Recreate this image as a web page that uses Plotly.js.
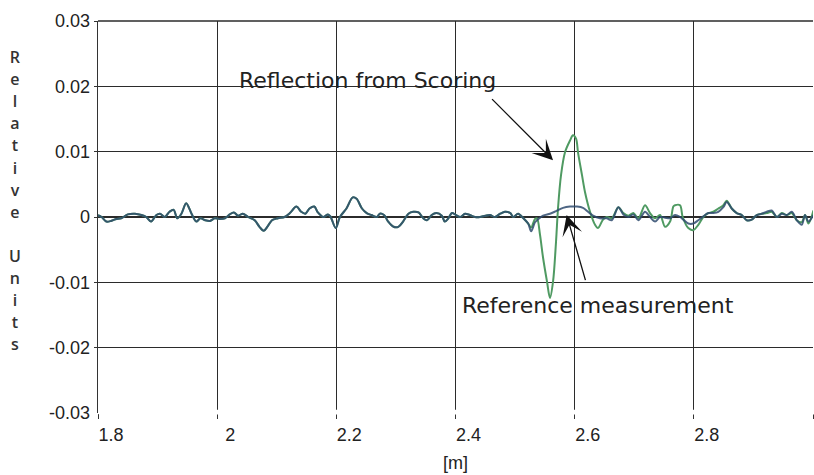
<!DOCTYPE html>
<html>
<head>
<meta charset="utf-8">
<script src="https://cdn.plot.ly/plotly-3.0.1.min.js"></script>
<style>
  html, body { margin: 0; padding: 0; overflow: hidden; background: #fff; }
  #chart { width: 830px; height: 475px; }
</style>
</head>
<body>
<div id="chart"></div>
<script>
// ---- Data ----
const xTickVals   = [1.8, 2.0, 2.2, 2.4, 2.6, 2.8, 3.0];
const xTickLabels = ['1.8', '2', '2.2', '2.4', '2.6', '2.8', '3'];
const yTickVals   = [-0.02, -0.01, 0, 0.01, 0.02, 0.03];
const yTickLabels = ['-0.02', '-0.01', '0', '0.01', '0.02', '0.03'];
const yBottomVal   = -0.03;
const yBottomLabel = '-0.03';

// Measurement with scoring (green trace) – distance [m]
const xScoring = [
  1.800,1.806,1.814,1.822,1.831,1.839,1.850,1.862,1.873,1.881,1.889,1.898,1.904,1.912,1.920,1.927,1.933,1.940,1.948,1.957,
  1.965,1.972,1.980,1.988,1.996,2.004,2.013,2.021,2.028,2.035,2.043,2.052,2.063,2.071,2.078,2.085,2.092,2.102,2.113,2.122,
  2.133,2.141,2.148,2.155,2.163,2.169,2.178,2.186,2.190,2.199,2.206,2.217,2.2275,2.234,2.243,2.251,2.259,2.268,2.273,2.280,
  2.287,2.296,2.304,2.312,2.321,2.329,2.338,2.346,2.352,2.360,2.368,2.377,2.382,2.388,2.394,2.401,2.408,2.416,2.424,2.433,
  2.441,2.450,2.458,2.466,2.475,2.483,2.492,2.497,2.505,2.514,2.522,2.527,2.5334,2.5368,2.5418,2.5469,2.5536,2.5586,2.5637,2.5687,
  2.5721,2.5771,2.5838,2.5922,2.5972,2.6023,2.6056,2.6123,2.6174,2.6258,2.6342,2.6392,2.6476,2.6538,2.6622,2.6733,2.6817,2.6901,2.6985,2.7069,
  2.7181,2.7265,2.7349,2.7433,2.7517,2.7601,2.7656,2.7684,2.7768,2.7813,2.7907,2.7991,2.8075,2.8159,2.8243,2.8327,2.8411,2.8495,2.8552,2.8636,
  2.8720,2.8804,2.8888,2.8972,2.9056,2.9140,2.9224,2.9308,2.9392,2.9476,2.9560,2.9644,2.9728,2.9811,2.9867,2.9923,3.0007
];
// Relative units
const scoring = [
  0.0003,0.0000,-0.0007,-0.0006,-0.0003,-0.0002,0.0004,0.0005,0.0003,0.0000,-0.0007,0.0003,0.0005,0.0000,0.0008,0.0011,-0.0002,0.0005,0.0021,0.0005,
  -0.0007,-0.0002,-0.0005,-0.0006,-0.0002,-0.0003,-0.0002,0.0004,0.0007,0.0002,0.0005,0.0000,-0.0005,-0.0015,-0.0021,-0.0014,-0.0005,-0.0002,0.0000,0.0006,
  0.0016,0.0008,0.0005,0.0013,0.0016,0.0007,0.0000,0.0004,0.0001,-0.0017,0.0000,0.0013,0.0030,0.0028,0.0013,0.0006,0.0003,0.0000,0.0005,0.0003,
  -0.0007,-0.0015,-0.0015,-0.0007,0.0005,0.0008,0.0007,-0.0002,-0.0005,0.0003,0.0006,0.0002,-0.0007,-0.0002,0.0006,0.0003,0.0000,0.0005,0.0003,0.0000,
  0.0000,0.0002,0.0003,0.0000,0.0005,0.0008,0.0006,0.0000,0.0005,-0.0002,-0.0010,-0.0016,-0.0003,-0.0002,-0.0027,-0.0062,-0.0099,-0.0124,-0.0099,-0.0038,
  0.0014,0.0064,0.0099,0.0117,0.0125,0.0120,0.0099,0.0064,0.0038,0.0008,-0.0012,-0.0017,-0.0004,0.0000,-0.0002,0.0015,0.0006,0.0002,0.0006,-0.0002,
  0.0018,0.0006,-0.0002,0.0003,-0.0015,-0.0007,0.0016,0.0018,0.0018,0.0000,-0.0017,-0.0020,-0.0012,0.0000,0.0006,0.0008,0.0013,0.0018,0.0025,0.0013,
  0.0006,0.0003,-0.0005,-0.0004,0.0003,0.0005,0.0006,0.0008,0.0000,0.0006,0.0003,0.0006,-0.0005,-0.0008,0.0003,-0.0010,0.0010
];

// Reference measurement (blue trace) – distance [m]
const xReference = [
  1.800,1.806,1.814,1.822,1.831,1.839,1.850,1.862,1.873,1.881,1.889,1.898,1.904,1.912,1.920,1.927,1.933,1.940,1.948,1.957,
  1.965,1.972,1.980,1.988,1.996,2.004,2.013,2.021,2.028,2.035,2.043,2.052,2.063,2.071,2.078,2.085,2.092,2.102,2.113,2.122,
  2.133,2.141,2.148,2.155,2.163,2.169,2.178,2.186,2.190,2.199,2.206,2.217,2.2275,2.234,2.243,2.251,2.259,2.268,2.273,2.280,
  2.287,2.296,2.304,2.312,2.321,2.329,2.338,2.346,2.352,2.360,2.368,2.377,2.382,2.388,2.394,2.401,2.408,2.416,2.424,2.433,
  2.441,2.450,2.458,2.466,2.475,2.483,2.492,2.497,2.505,2.514,2.522,2.527,2.5334,2.5368,2.5469,2.5586,2.5687,2.5804,2.5922,2.6040,
  2.6140,2.6224,2.6308,2.6425,2.6538,2.6622,2.6733,2.6817,2.6901,2.6985,2.7069,2.7181,2.7265,2.7349,2.7433,2.7517,2.7601,2.7684,2.7768,2.7823,
  2.7907,2.7991,2.8075,2.8159,2.8243,2.8327,2.8411,2.8495,2.8552,2.8636,2.8720,2.8804,2.8888,2.8972,2.9056,2.9140,2.9224,2.9308,2.9392,2.9476,
  2.9560,2.9644,2.9728,2.9811,2.9867,2.9923,3.0007
];
const reference = [
  0.0003,0.0000,-0.0007,-0.0006,-0.0003,-0.0002,0.0004,0.0005,0.0003,0.0000,-0.0007,0.0003,0.0005,0.0000,0.0008,0.0011,-0.0002,0.0005,0.0021,0.0005,
  -0.0007,-0.0002,-0.0005,-0.0006,-0.0002,-0.0003,-0.0002,0.0004,0.0007,0.0002,0.0005,0.0000,-0.0005,-0.0015,-0.0021,-0.0014,-0.0005,-0.0002,0.0000,0.0006,
  0.0016,0.0008,0.0005,0.0013,0.0016,0.0007,0.0000,0.0004,0.0001,-0.0017,0.0000,0.0013,0.0030,0.0028,0.0013,0.0006,0.0003,0.0000,0.0005,0.0003,
  -0.0007,-0.0015,-0.0015,-0.0007,0.0005,0.0008,0.0007,-0.0002,-0.0005,0.0003,0.0006,0.0002,-0.0007,-0.0002,0.0006,0.0003,0.0000,0.0005,0.0003,0.0000,
  0.0000,0.0002,0.0003,0.0000,0.0005,0.0008,0.0006,0.0000,0.0005,-0.0002,-0.0010,-0.0022,-0.0008,-0.0005,0.0002,0.0005,0.0009,0.0014,0.0016,0.0016,
  0.0014,0.0008,0.0002,-0.0002,-0.0002,-0.0005,0.0015,0.0004,0.0000,0.0004,-0.0005,0.0008,0.0000,-0.0007,0.0000,-0.0001,-0.0002,0.0003,0.0000,-0.0004,
  -0.0010,-0.0010,-0.0005,0.0001,0.0006,0.0006,0.0008,0.0015,0.0023,0.0013,0.0006,0.0003,-0.0005,-0.0004,0.0003,0.0005,0.0008,0.0010,0.0000,0.0005,
  0.0003,0.0008,-0.0005,-0.0012,0.0003,-0.0007,0.0003
];

const yLabelLetters = ['R','e','l','a','t','i','v','e','','U','n','i','t','s'];

// ---- Chart ----
const gridCol = '#2b2b2b';
const tickFont = { family: 'Liberation Sans, Arial, sans-serif', size: 18, color: '#222' };
const noteFont = { family: 'DejaVu Sans, sans-serif', size: 22, color: '#222' };

const traces = [
  { x: xScoring, y: scoring, type: 'scatter', mode: 'lines', name: 'Scoring',
    line: { color: '#4f9a62', width: 2, shape: 'spline', smoothing: 0.9 }, hoverinfo: 'skip' },
  { x: xReference, y: reference, type: 'scatter', mode: 'lines', name: 'Reference',
    opacity: 0.85,
    line: { color: '#2f4b6e', width: 2, shape: 'spline', smoothing: 0.9 }, hoverinfo: 'skip' }
];

const yLabelText = yLabelLetters
  .map(c => c ? '<span style="font-size:16px;font-weight:600">' + c + '</span>' : ' ')
  .join('<br>');

const layout = {
  width: 830, height: 475,
  margin: { l: 98, r: 17, t: 21, b: 62 },
  paper_bgcolor: '#fff', plot_bgcolor: '#fff',
  showlegend: false,
  xaxis: {
    range: [1.8, 3.0],
    tickmode: 'array', tickvals: xTickVals, ticktext: xTickLabels,
    showgrid: true, gridcolor: gridCol, gridwidth: 1.3,
    zeroline: false, showline: false,
    ticks: 'outside', ticklen: 5, tickcolor: '#333', tickwidth: 1,
    ticklabelshift: 13,
    tickfont: tickFont
  },
  yaxis: {
    range: [-0.03, 0.03],
    tickmode: 'array', tickvals: yTickVals, ticktext: yTickLabels,
    showgrid: true, gridcolor: gridCol, gridwidth: 1.3,
    zeroline: true, zerolinecolor: gridCol, zerolinewidth: 1.3,
    showline: true, linecolor: '#333', linewidth: 1.3,
    ticks: 'outside', ticklen: 3, tickcolor: '#333', tickwidth: 1,
    tickfont: tickFont
  },
  shapes: [
    { type: 'line', xref: 'paper', yref: 'paper', x0: 0, x1: 1, y0: 1, y1: 1,
      line: { color: gridCol, width: 1.3 } },
    // the reference has no line along the bottom edge of the plot
    { type: 'rect', xref: 'paper', yref: 'paper', x0: 0.001, x1: 1.02, y0: -0.004, y1: 0.008,
      fillcolor: '#ffffff', line: { width: 0 }, layer: 'above' }
  ],
  annotations: [
    { text: 'Reflection from Scoring', xref: 'x', yref: 'y', x: 2.0328, y: 0.0209,
      xanchor: 'left', yanchor: 'middle', showarrow: false, font: noteFont },
    { text: ' ', xref: 'x', yref: 'y', x: 2.5637, y: 0.0087,
      axref: 'x', ayref: 'y', ax: 2.4563, ay: 0.0185,
      showarrow: true, arrowhead: 3, arrowsize: 2.6, arrowwidth: 1.3, arrowcolor: '#111' },
    { text: 'Reference measurement', xref: 'x', yref: 'y', x: 2.4076, y: -0.0135,
      xanchor: 'left', yanchor: 'middle', showarrow: false, font: noteFont },
    { text: ' ', xref: 'x', yref: 'y', x: 2.5866, y: 0.0003,
      axref: 'x', ayref: 'y', ax: 2.6229, ay: -0.0112,
      showarrow: true, arrowhead: 3, arrowsize: 2.6, arrowwidth: 1.3, arrowcolor: '#111' },
    { text: yBottomLabel, xref: 'paper', yref: 'y', x: -0.0084, y: yBottomVal,
      xanchor: 'right', yanchor: 'middle', showarrow: false, font: tickFont },
    { text: yLabelText, xref: 'paper', yref: 'paper', x: -0.116, y: 0.543,
      xanchor: 'center', yanchor: 'middle', showarrow: false,
      font: { family: 'Open Sans, sans-serif', size: 17, color: '#333' } },
    { text: '[m]', xref: 'paper', yref: 'paper', x: 0.5, y: -0.1276,
      xanchor: 'center', yanchor: 'middle', showarrow: false,
      font: { family: 'Liberation Sans, Arial, sans-serif', size: 18, color: '#222' } }
  ]
};

Plotly.newPlot('chart', traces, layout, { displayModeBar: false, staticPlot: true });
</script>
</body>
</html>
